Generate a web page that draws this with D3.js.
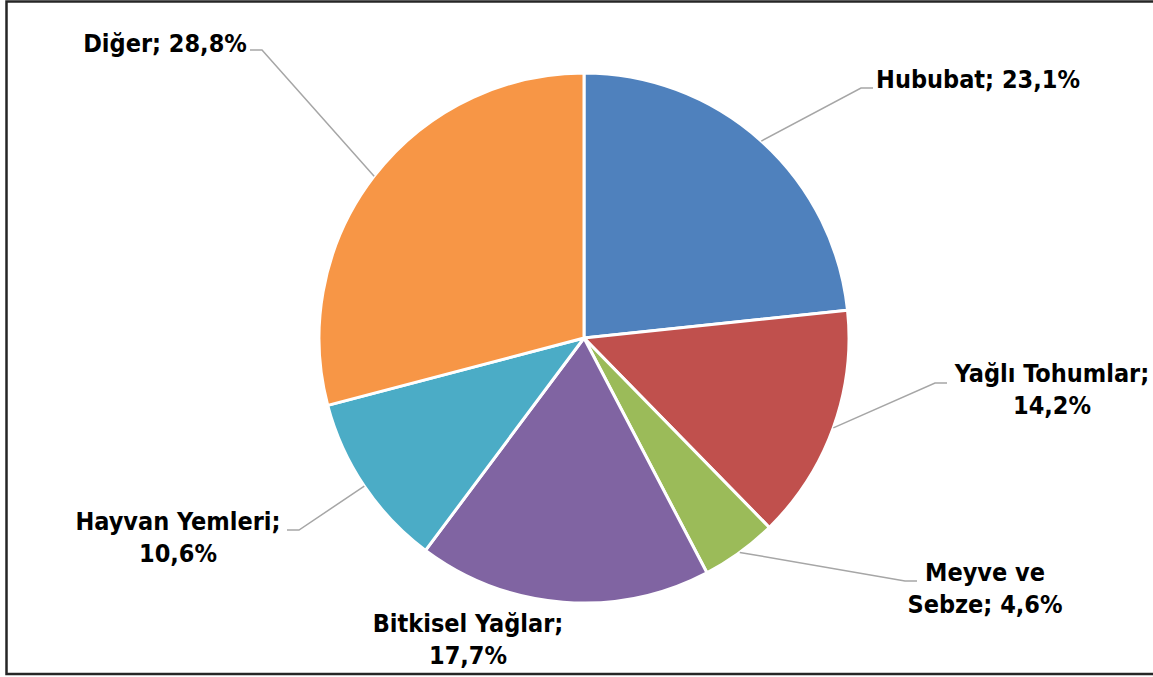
<!DOCTYPE html>
<html>
<head>
<meta charset="utf-8">
<script src="https://cdn.jsdelivr.net/npm/d3@7"></script>
<style>
    body { margin: 0; background: #fff; }
    .lbl { font-family: "DejaVu Sans Condensed", "DejaVu Sans", sans-serif; font-weight: bold; font-size: 25px; fill: #000; }
</style>
</head>
<body>
<script>

// categories and shares (%)
var categories = ["Hububat", "Yağlı Tohumlar", "Meyve ve Sebze", "Bitkisel Yağlar", "Hayvan Yemleri", "Diğer"];
var shares = [23.1, 14.2, 4.6, 17.7, 10.6, 28.8];
var colours = ["#4F81BD", "#C0504D", "#9BBB59", "#8064A2", "#4BACC6", "#F79646"];

// label text lines as they wrap in the original
var labelLines = [
    ["Hububat; 23,1%"],
    ["Yağlı Tohumlar;", "14,2%"],
    ["Meyve ve", "Sebze; 4,6%"],
    ["Bitkisel Yağlar;", "17,7%"],
    ["Hayvan Yemleri;", "10,6%"],
    ["Diğer; 28,8%"]
];

// label placement: text centre x, first baseline y, elbow of leader line (null = no leader)
var labelLayout = [
    {x: 978, y: 88,  elbow: [873, 88],  side: 1},
    {x: 1052, y: 382, elbow: [947, 383], side: 1},
    {x: 985, y: 581, elbow: [917, 581], side: 1},
    {x: 468, y: 632, elbow: null},
    {x: 178, y: 530, elbow: [287, 530], side: -1},
    {x: 165, y: 52,  elbow: [250, 50],  side: -1}
];

var width = 1153, height = 677;
var cx = 584, cy = 338, radius = 265;
var lineHeight = 32;

var svg = d3.select("body").append("svg")
    .attr("width", width)
    .attr("height", height);

// chart frame (right edge falls outside the picture)
svg.append("rect")
    .attr("x", 6.5)
    .attr("y", 1.5)
    .attr("width", 1170)
    .attr("height", 672.5)
    .attr("fill", "none")
    .attr("stroke", "#262626")
    .attr("stroke-width", 2.5);

var pie = d3.pie().sort(null).value(function(d) { return d; });
var arcs = pie(shares);

var arc = d3.arc().innerRadius(0).outerRadius(radius);

var g = svg.append("g")
    .attr("transform", "translate(" + cx + "," + cy + ")");

g.selectAll("path.slice")
    .data(arcs)
    .enter()
    .append("path")
    .attr("class", "slice")
    .attr("d", arc)
    .attr("fill", function(d, i) { return colours[i]; })
    .attr("stroke", "#fff")
    .attr("stroke-width", 3)
    .attr("stroke-linejoin", "round");

// leader lines from the middle of each slice edge to the label elbow
arcs.forEach(function(d, i) {
    var lay = labelLayout[i];
    if (!lay.elbow) return;
    var mid = (d.startAngle + d.endAngle) / 2;
    var sx = cx + radius * Math.sin(mid);
    var sy = cy - radius * Math.cos(mid);
    var ex = lay.elbow[0], ey = lay.elbow[1];
    var hx = ex - lay.side * 12;
    svg.append("polyline")
        .attr("points", [[sx, sy], [hx, ey], [ex, ey]].map(function(p) { return p.join(","); }).join(" "))
        .attr("fill", "none")
        .attr("stroke", "#A6A6A6")
        .attr("stroke-width", 1.5);
});

// data labels
labelLines.forEach(function(lines, i) {
    var lay = labelLayout[i];
    var t = svg.append("text")
        .attr("class", "lbl")
        .attr("text-anchor", "middle");
    lines.forEach(function(s, k) {
        t.append("tspan")
            .attr("x", lay.x)
            .attr("y", lay.y + k * lineHeight)
            .text(s);
    });
});

</script>
</body>
</html>
